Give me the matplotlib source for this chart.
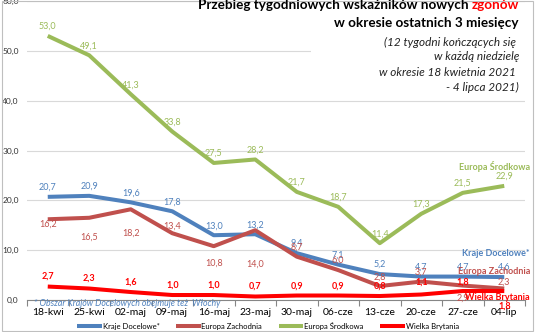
import matplotlib
matplotlib.use('Agg')
from matplotlib import pyplot as plt
from matplotlib.patches import Rectangle
from matplotlib.ticker import FixedLocator, FuncFormatter

# Weekly death indicators, 12 weeks ending on Sundays
weeks = ['18-kwi', '25-kwi', '02-maj', '09-maj', '16-maj', '23-maj',
         '30-maj', '06-cze', '13-cze', '20-cze', '27-cze', '04-lip']
kraje_docelowe = [20.7, 20.9, 19.6, 17.8, 13.0, 13.2, 9.4, 7.1, 5.2, 4.7, 4.7, 4.6]
europa_zachodnia = [16.2, 16.5, 18.2, 13.4, 10.8, 14.0, 8.7, 6.0, 2.8, 3.7, 2.9, 2.3]
europa_srodkowa = [53.0, 49.1, 41.3, 33.8, 27.5, 28.2, 21.7, 18.7, 11.4, 17.3, 21.5, 22.9]
wielka_brytania = [2.7, 2.3, 1.6, 1.0, 1.0, 0.7, 0.9, 0.9, 0.8, 1.1, 1.8, 1.8]

# label offsets in pixels (positive = above the point)
dy_kd = [9.5] * 12
dy_ez = [-5, -19.5, -24, 7, -17, -34, 9.5, 10, 9, 9.5, -12.5, 6.5]
dy_es = [9.5] * 12
dy_uk = [10.5, 10.5, 10, 10, 10, 10.5, 9.5, 9.5, 10, 12.5, 9, -15]

C_KD = '#4F81BD'
C_EZ = '#C0504D'
C_ES = '#9BBB59'
C_UK = '#FF0000'

plt.rcParams['font.family'] = ['Lato', 'DejaVu Sans']

W, H = 536, 332
fig = plt.figure(figsize=(W / 100, H / 100), dpi=100)


def px(x, y):
    # pixel position (from top-left) -> figure fraction
    return x / W, 1 - y / H


def fmt(v):
    return f'{v:.1f}'.replace('.', ',')


ax = fig.add_axes([27 / W, 32 / H, 498 / W, 299 / H])
ax.set_xlim(-0.5, 11.5)
ax.set_ylim(0, 60)
x = list(range(len(weeks)))

ax.set_yticks(range(0, 61, 10))
ax.yaxis.set_major_formatter(FuncFormatter(lambda v, p: fmt(v)))
ax.tick_params(axis='y', length=0, labelsize=6, labelcolor='#333333', pad=6)
ax.grid(axis='y', color='#D9D9D9', lw=0.8)
ax.set_axisbelow(True)
for s in ['left', 'right', 'top']:
    ax.spines[s].set_visible(False)
ax.spines['bottom'].set_color('#868686')
ax.spines['bottom'].set_linewidth(0.8)

ax.set_xticks(x)
ax.set_xticklabels(weeks, fontsize=7.5)
ax.tick_params(axis='x', which='major', length=0, pad=6)
ax.xaxis.set_minor_locator(FixedLocator([i + 0.5 for i in range(-1, 12)]))
ax.tick_params(axis='x', which='minor', length=4, color='#868686', width=0.8)

series = [
    ('Kraje Docelowe*', kraje_docelowe, C_KD, dy_kd, 'normal'),
    ('Europa Zachodnia', europa_zachodnia, C_EZ, dy_ez, 'normal'),
    ('Europa Środkowa', europa_srodkowa, C_ES, dy_es, 'normal'),
    ('Wielka Brytania', wielka_brytania, C_UK, dy_uk, 'bold'),
]
handles = []
for name, vals, col, dys, fw in series:
    ln, = ax.plot(x, vals, color=col, lw=2.9, label=name, solid_capstyle='butt')
    handles.append(ln)
    for i, v in enumerate(vals):
        ax.annotate(fmt(v), (i, v), xytext=(0, dys[i]),
                    textcoords='offset pixels', ha='center', va='center',
                    fontsize=6.5, color=col, fontweight=fw)

# series names at the right end
end_labels = [
    ('Europa Środkowa', C_ES, 166),
    ('Kraje Docelowe*', C_KD, 253),
    ('Europa Zachodnia', C_EZ, 272),
    ('Wielka Brytania', C_UK, 297),
]
for txt, col, yy in end_labels:
    fig.text(*px(530, yy), txt, ha='right', va='center', fontsize=6.5,
             color=col, fontweight='bold')

fig.text(*px(34, 304), '* Obszar Krajów Docelowych obejmuje też  Włochy',
         ha='left', va='center', fontsize=6.3, color=C_KD, style='italic')

# title block on a white box
fig.patches.append(Rectangle(px(311, 95), 214 / W, 65 / H, transform=fig.transFigure,
                             facecolor='white', edgecolor='none', zorder=1))
t_red = fig.text(*px(519, 11), 'zgonów', ha='right', va='bottom', fontsize=9.7,
                 fontweight='bold', color='#FF0000', zorder=3)
fig.add_artist(plt.Annotation('Przebieg tygodniowych wskaźników nowych ', xy=(0, 0),
                              xycoords=t_red, ha='right', va='bottom', fontsize=9.7,
                              fontweight='bold', color='black'))
fig.text(*px(519, 23), 'w okresie ostatnich 3 miesięcy', ha='right', va='center',
         fontsize=9.7, fontweight='bold', color='black')
subtitle = ['(12 tygodni kończących się ', 'w każdą niedzielę',
            'w okresie 18 kwietnia 2021 ', '- 4 lipca 2021)']
for k, line in enumerate(subtitle):
    fig.text(*px(519, 42 + 15 * k), line, ha='right', va='center', fontsize=8.5,
             style='italic', color='#222222')

fig.legend(handles=handles, loc='center', bbox_to_anchor=px(268, 326), ncol=4,
           frameon=False, fontsize=5.5, handlelength=3.2, handletextpad=0.1,
           columnspacing=2.2)

fig.patches.append(Rectangle((0.004, 0.003), 0.99, 0.994, transform=fig.transFigure,
                             facecolor='none', edgecolor='#BFBFBF', lw=0.8))

fig.savefig('out.png', dpi=100)
